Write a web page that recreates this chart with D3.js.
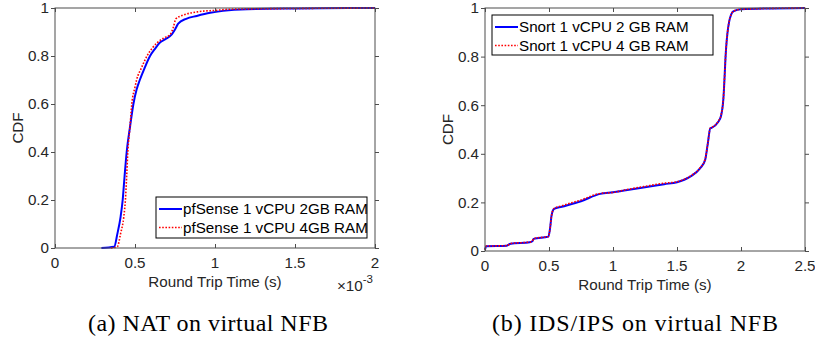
<!DOCTYPE html>
<html>
<head>
<meta charset="utf-8">
<script src="https://cdn.jsdelivr.net/npm/d3@7"></script>
<style>
  body { margin: 0; background: #fff; }
  svg { display: block; }
</style>
</head>
<body>
<svg width="815" height="341"></svg>
<script>
// (a) NAT: round trip time in units of 1e-3 s
const natX2GB = [0.29, 0.37, 0.39, 0.41, 0.423, 0.435, 0.448, 0.47, 0.49, 0.51, 0.53, 0.56, 0.594, 0.625, 0.656, 0.69, 0.73, 0.75, 0.77, 0.82, 0.886, 0.97, 1.05, 1.2, 1.5, 2.0];
const natY2GB = [0.0, 0.005, 0.06, 0.13, 0.2, 0.3, 0.4, 0.51, 0.6, 0.66, 0.7, 0.75, 0.8, 0.83, 0.856, 0.87, 0.89, 0.91, 0.935, 0.955, 0.967, 0.98, 0.988, 0.995, 0.998, 1.0];
const natX4GB = [0.35, 0.39, 0.41, 0.43, 0.44, 0.448, 0.455, 0.468, 0.48, 0.5, 0.51, 0.54, 0.575, 0.61, 0.64, 0.68, 0.72, 0.74, 0.755, 0.8, 0.9, 1.0, 1.1, 1.5, 2.0];
const natY4GB = [0.0, 0.006, 0.06, 0.13, 0.2, 0.3, 0.4, 0.5, 0.6, 0.67, 0.7, 0.75, 0.8, 0.835, 0.856, 0.875, 0.89, 0.92, 0.955, 0.97, 0.985, 0.99, 0.995, 0.998, 1.0];

// (b) IDS/IPS: round trip time in s
const idsX2GB = [0.0, 0.01, 0.17, 0.2, 0.35, 0.37, 0.38, 0.495, 0.51, 0.52, 0.54, 0.6, 0.75, 0.9, 1.0, 1.1, 1.25, 1.4, 1.5, 1.6, 1.68, 1.72, 1.74, 1.76, 1.77, 1.82, 1.844, 1.862, 1.883, 1.906, 1.94, 2.0, 2.5];
const idsY2GB = [0.005, 0.02, 0.022, 0.03, 0.036, 0.04, 0.05, 0.059, 0.1, 0.146, 0.173, 0.182, 0.205, 0.235, 0.242, 0.25, 0.262, 0.275, 0.283, 0.305, 0.34, 0.375, 0.44, 0.505, 0.507, 0.53, 0.556, 0.624, 0.83, 0.94, 0.986, 0.995, 1.0];
const idsX4GB = [0.0, 0.01, 0.17, 0.2, 0.35, 0.37, 0.38, 0.495, 0.51, 0.52, 0.54, 0.6, 0.75, 0.9, 1.0, 1.1, 1.25, 1.4, 1.5, 1.6, 1.68, 1.72, 1.74, 1.76, 1.77, 1.82, 1.844, 1.862, 1.883, 1.906, 1.94, 2.0, 2.5];
const idsY4GB = [0.005, 0.02, 0.022, 0.031, 0.037, 0.041, 0.051, 0.06, 0.1, 0.146, 0.175, 0.186, 0.21, 0.237, 0.241, 0.252, 0.266, 0.279, 0.285, 0.307, 0.342, 0.378, 0.44, 0.505, 0.508, 0.532, 0.558, 0.626, 0.832, 0.94, 0.986, 0.995, 1.0];

const natXTicks = [0, 0.5, 1, 1.5, 2];
const idsXTicks = [0, 0.5, 1, 1.5, 2, 2.5];
const cdfTicks = [0, 0.2, 0.4, 0.6, 0.8, 1];

const natLabels = ['pfSense 1 vCPU 2GB RAM', 'pfSense 1 vCPU 4GB RAM'];
const idsLabels = ['Snort 1 vCPU 2 GB RAM', 'Snort 1 vCPU 4 GB RAM'];

const svg = d3.select('svg');
const sans = '"Liberation Sans", Arial, sans-serif';
const fs = '15.2px';
const axisCol = '#4d4d4d';
const textCol = '#262626';

function drawPanel(p) {
    const x = d3.scaleLinear().domain(p.xDomain).range([p.left, p.right]);
    const y = d3.scaleLinear().domain([0, 1]).range([p.bottom, p.top]);
    const g = svg.append('g');

    const line = d3.line()
        .x(d => x(d[0]))
        .y(d => y(d[1]))
        .curve(d3.curveMonotoneX);

    // 선 그리기 (파랑 실선, 빨강 점선)
    g.append('path')
        .datum(d3.zip(p.x1, p.y1))
        .attr('d', line)
        .attr('fill', 'none')
        .attr('stroke', '#0000ff')
        .attr('stroke-width', 2);
    g.append('path')
        .datum(d3.zip(p.x2, p.y2))
        .attr('d', line)
        .attr('fill', 'none')
        .attr('stroke', '#ff0000')
        .attr('stroke-width', 1.6)
        .attr('stroke-dasharray', '1.6,1.6');

    // 축 (안쪽 눈금, 네 변 모두)
    const tick = 4;
    const axes = [
        d3.axisBottom(x).tickValues(p.xTicks).tickSize(tick),
        d3.axisTop(x).tickValues(p.xTicks).tickSize(tick),
        d3.axisLeft(y).tickValues(cdfTicks).tickSize(tick),
        d3.axisRight(y).tickValues(cdfTicks).tickSize(tick)
    ];
    const pos = [
        `translate(0,${p.bottom})`, `translate(0,${p.top})`,
        `translate(${p.left},0)`, `translate(${p.right},0)`
    ];
    axes.forEach((a, i) => {
        const ag = g.append('g').attr('transform', pos[i]).call(a);
        ag.select('.domain').remove();
        ag.selectAll('.tick line')
            .attr('stroke', axisCol)
            .attr(i < 2 ? 'y2' : 'x2', (i === 0 || i === 2) ? -tick : tick);
        ag.selectAll('.tick text').remove();
    });

    g.append('rect')
        .attr('x', p.left).attr('y', p.top)
        .attr('width', p.right - p.left).attr('height', p.bottom - p.top)
        .attr('fill', 'none')
        .attr('stroke', axisCol)
        .attr('stroke-width', 1);

    // 눈금 라벨
    g.selectAll('.xl')
        .data(p.xTicks)
        .enter().append('text')
        .attr('x', d => x(d))
        .attr('y', p.bottom + 20)
        .attr('text-anchor', 'middle')
        .attr('font-family', sans).attr('font-size', fs).attr('fill', textCol)
        .text(d => d3.format('~g')(d));
    g.selectAll('.yl')
        .data(cdfTicks)
        .enter().append('text')
        .attr('x', p.left - 6)
        .attr('y', d => y(d))
        .attr('dy', '0.36em')
        .attr('text-anchor', 'end')
        .attr('font-family', sans).attr('font-size', fs).attr('fill', textCol)
        .text(d => d3.format('~g')(d));

    // 축 제목
    g.append('text')
        .attr('x', (p.left + p.right) / 2)
        .attr('y', p.bottom + 39)
        .attr('text-anchor', 'middle')
        .attr('font-family', sans).attr('font-size', fs).attr('fill', textCol)
        .text('Round Trip Time (s)');
    g.append('text')
        .attr('transform', `translate(${p.left - 37},${(p.top + p.bottom) / 2}) rotate(-90)`)
        .attr('dy', '0.36em')
        .attr('text-anchor', 'middle')
        .attr('font-family', sans).attr('font-size', fs).attr('fill', textCol)
        .text('CDF');

    // 범례
    const lg = g.append('g');
    lg.append('rect')
        .attr('x', p.legend[0]).attr('y', p.legend[1])
        .attr('width', p.legend[2]).attr('height', p.legend[3])
        .attr('fill', '#fff')
        .attr('stroke', '#000')
        .attr('stroke-width', 1);
    p.labels.forEach((lab, i) => {
        const cy = p.legend[1] + 12 + i * 18.5;
        lg.append('line')
            .attr('x1', p.legend[0] + 3).attr('x2', p.legend[0] + 26)
            .attr('y1', cy).attr('y2', cy)
            .attr('stroke', i === 0 ? '#0000ff' : '#ff0000')
            .attr('stroke-width', i === 0 ? 2 : 1.6)
            .attr('stroke-dasharray', i === 0 ? null : '1.6,1.6');
        lg.append('text')
            .attr('x', p.legend[0] + 27)
            .attr('y', cy)
            .attr('dy', '0.36em')
            .attr('font-family', sans).attr('font-size', fs).attr('fill', '#000')
            .text(lab);
    });

    // 캡션
    g.append('text')
        .attr('x', p.captionX)
        .attr('y', 331)
        .attr('text-anchor', 'middle')
        .attr('font-family', '"Liberation Serif", "Times New Roman", serif')
        .attr('font-size', '24px')
        .attr('fill', '#000')
        .attr('textLength', p.captionW)
        .attr('lengthAdjust', 'spacing')
        .text(p.caption);

    return g;
}

const gA = drawPanel({
    left: 55, right: 375, top: 8, bottom: 248,
    xDomain: [0, 2], xTicks: natXTicks,
    x1: natX2GB, y1: natY2GB, x2: natX4GB, y2: natY4GB,
    labels: natLabels, legend: [156, 197, 211, 41],
    caption: '(a) NAT on virtual NFB', captionX: 208, captionW: 240
});

// ×10^-3 지수 표시
const expText = gA.append('text')
    .attr('x', 373).attr('y', 291)
    .attr('text-anchor', 'end')
    .attr('font-family', sans).attr('font-size', fs).attr('fill', textCol);
expText.append('tspan').text('\u00d710');
expText.append('tspan').attr('dy', -8).attr('font-size', '11.5px').text('-3');

drawPanel({
    left: 485, right: 805, top: 8, bottom: 251,
    xDomain: [0, 2.5], xTicks: idsXTicks,
    x1: idsX2GB, y1: idsY2GB, x2: idsX4GB, y2: idsY4GB,
    labels: idsLabels, legend: [492, 15, 221, 40],
    caption: '(b) IDS/IPS on virtual NFB', captionX: 635, captionW: 286
});
</script>
</body>
</html>
